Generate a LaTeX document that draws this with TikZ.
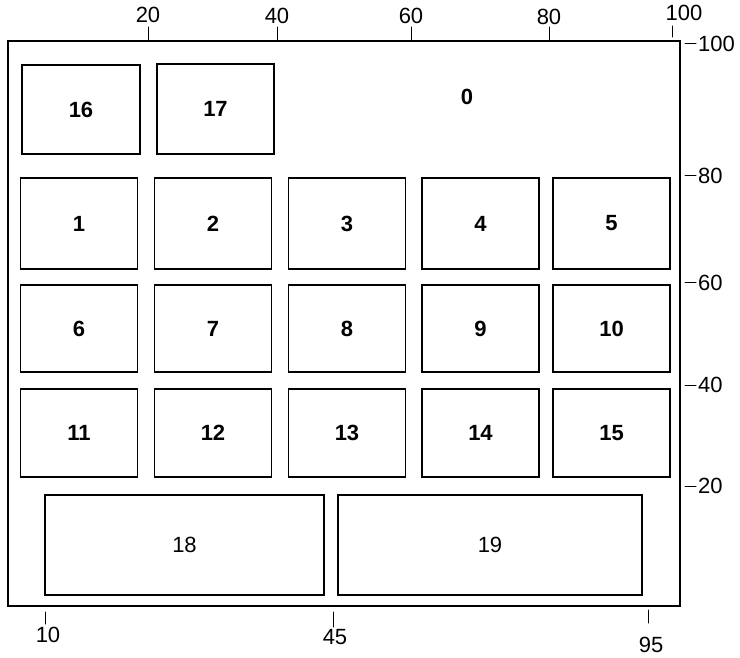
\documentclass[tikz,border=0pt]{standalone}
\usepackage{fontspec}
\setmainfont{Liberation Sans}

\begin{document}
\begin{tikzpicture}[x=1pt,y=-1pt,
    cell/.style={draw,line width=1.1pt,inner sep=0pt,font=\fontsize{22}{26}\selectfont\bfseries},
    widecell/.style={cell,font=\fontsize{22}{26}\selectfont},
    scaletick/.style={line width=1pt,line cap=round},
    scalelabel/.style={font=\fontsize{22}{24}\selectfont,inner sep=0pt}]
  \useasboundingbox (0,0) rectangle (740,658);
  % outer area 0
  \node[draw,line width=1.2pt,minimum width=672pt,minimum height=565pt] (frame) at (344,323.5) {};
  \node[font=\fontsize{22}{26}\selectfont\bfseries] (b0) at (467,97) {0};
  % top boxes
  \node[cell,minimum width=118pt,minimum height=89pt] (b16) at (81,109.5) {16};
  \node[cell,minimum width=117pt,minimum height=90pt] (b17) at (215.5,109) {17};
  % grid 1--15
  \foreach \cy/\h [count=\r from 0] in {223.5/91,328.5/87,433/88}
    \foreach \cx [count=\c] in {79,213,347,480.5,611.5} {
      \pgfmathtruncatemacro\idx{5*\r+\c}
      \node[cell,minimum width=117pt,minimum height=\h pt] (b\idx) at (\cx,\cy) {\idx};
    }
  % bottom boxes
  \node[widecell,minimum width=279pt,minimum height=100pt] (b18) at (184.5,545) {18};
  \node[widecell,minimum width=304pt,minimum height=100pt] (b19) at (490,545) {19};
  % top scale
  \foreach \tx/\tl/\ty in {148/20/15,277/40/16,411/60/16,549/80/17} {
    \draw[scaletick] (\tx,27) -- (\tx,40);
    \node[scalelabel] at (\tx,\ty) {\tl};
  }
  \draw[scaletick] (672,26) -- (672,37);
  \node[scalelabel] at (684,13) {100};
  % right scale
  \foreach \ty/\tl in {44/100,176/80,283/60,385/40,486/20} {
    \draw[scaletick] (685,\ty) -- (696,\ty);
    \node[scalelabel,anchor=west] at (698,\ty) {\tl};
  }
  % bottom scale
  \draw[scaletick] (45,612) -- (45,624);
  \node[scalelabel] at (48,635) {10};
  \draw[scaletick] (333,612) -- (333,627);
  \node[scalelabel] at (335,637) {45};
  \draw[scaletick] (648,610) -- (648,623);
  \node[scalelabel] at (651,645) {95};
\end{tikzpicture}
\end{document}
